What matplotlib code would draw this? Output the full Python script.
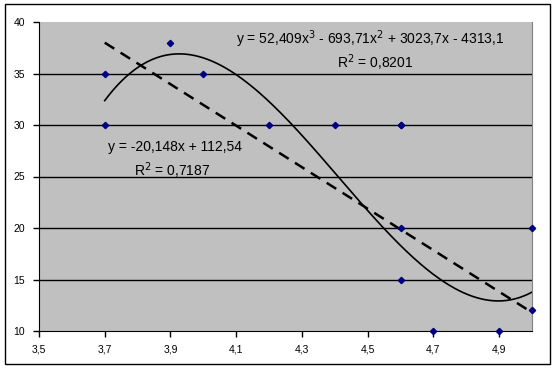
import numpy as np
import matplotlib
matplotlib.use('Agg')
import matplotlib.pyplot as plt
from matplotlib.ticker import FuncFormatter
from matplotlib.patches import Rectangle

# data
x_vals = [3.7, 3.7, 3.9, 4.0, 4.2, 4.4, 4.6, 4.6, 4.6, 4.6, 4.7, 4.9, 5.0, 5.0]
y_vals = [35, 30, 38, 35, 30, 30, 30, 30, 20, 15, 10, 10, 20, 12]

# trendline coefficients as printed on the chart
cubic_coef = [52.409, -693.71, 3023.7, -4313.1]
linear_coef = [-20.148, 112.54]

x_ticks = [3.5, 3.7, 3.9, 4.1, 4.3, 4.5, 4.7, 4.9]
y_ticks = [10, 15, 20, 25, 30, 35, 40]

plt.rcParams['font.family'] = ['Liberation Sans', 'DejaVu Sans']

fig = plt.figure(figsize=(5.56, 3.70), dpi=100)
ax = fig.add_axes([39 / 556, 39 / 370, 493 / 556, 309 / 370])
ax.set_facecolor('#c0c0c0')

for y in y_ticks[1:-1]:
    ax.axhline(y, color='black', linewidth=1, zorder=1)

xs = np.linspace(min(x_vals), max(x_vals), 300)
ax.plot(xs, np.polyval(cubic_coef, xs), color='black', linewidth=1.2, zorder=2)
ax.plot(xs, np.polyval(linear_coef, xs), color='black', linewidth=1.8,
        dashes=(4.5, 3), zorder=2)

ax.plot(x_vals, y_vals, linestyle='none', marker='D', markersize=3.2,
        color='#000080', zorder=3, clip_on=False)

ax.set_xlim(3.5, 5.0)
ax.set_ylim(10, 40)
ax.set_xticks(x_ticks)
ax.set_yticks(y_ticks)
comma = FuncFormatter(lambda v, p: f'{v:g}'.replace('.', ','))
ax.xaxis.set_major_formatter(comma)
ax.yaxis.set_major_formatter(comma)
ax.tick_params(labelsize=7.5, length=4, width=1, direction='out', pad=6)

ax.spines['top'].set_visible(False)
ax.spines['right'].set_color('#808080')

ax.text(0.671, 0.944, 'y = 52,409x$^3$ - 693,71x$^2$ + 3023,7x - 4313,1',
        transform=ax.transAxes, ha='center', va='center', fontsize=10)
ax.text(0.681, 0.868, 'R$^2$ = 0,8201', transform=ax.transAxes,
        ha='center', va='center', fontsize=10)
ax.text(0.276, 0.596, 'y = -20,148x + 112,54', transform=ax.transAxes,
        ha='center', va='center', fontsize=10)
ax.text(0.270, 0.518, 'R$^2$ = 0,7187', transform=ax.transAxes,
        ha='center', va='center', fontsize=10)

fig.patches.append(Rectangle((5 / 556, 6 / 370), 545 / 556, 360 / 370,
                             transform=fig.transFigure, fill=False,
                             edgecolor='black', linewidth=1))

fig.savefig('out.png', dpi=100)
